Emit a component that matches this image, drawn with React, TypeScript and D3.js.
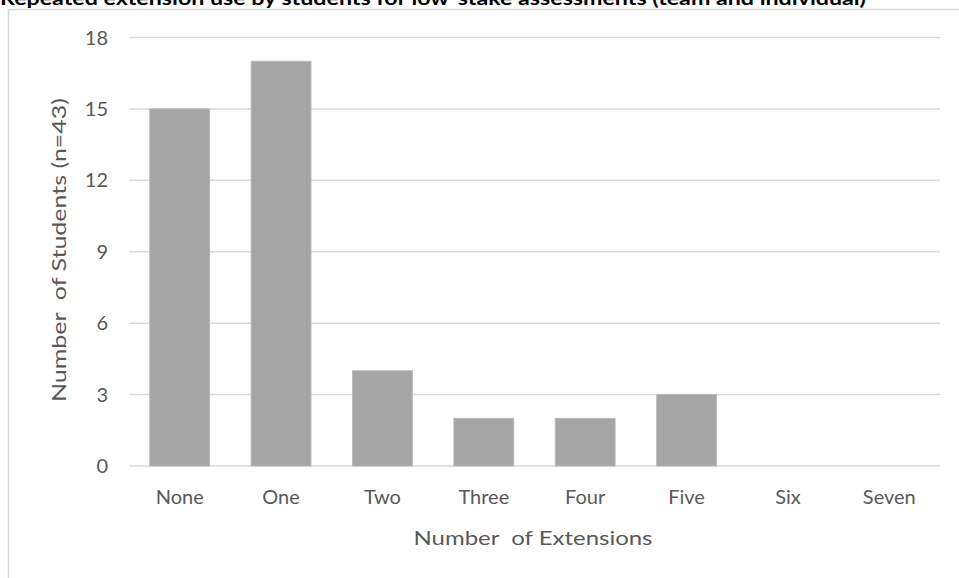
import React from "react";
import * as d3 from "d3";

const TITLE = "Repeated extension use by students for low-stake assessments (team and individual)";
const categories = ["None", "One", "Two", "Three", "Four", "Five", "Six", "Seven"];
const counts = [15, 17, 4, 2, 2, 3, 0, 0];
const yTicks = [0, 3, 6, 9, 12, 15, 18];
const X_TITLE = "Number  of Extensions";
const Y_TITLE = "Number  of Students (n=43)";

const W = 959;
const H = 578;
const plot = { left: 129, right: 940, top: 37.5, bottom: 466 };
const FONT = "Lato, 'Open Sans', sans-serif";
const TEXT = "#595959";

export default function App() {
  const x = d3
    .scaleBand<string>()
    .domain(categories)
    .range([plot.left, plot.right])
    .paddingInner(0.41)
    .paddingOuter(0.205);
  const y = d3.scaleLinear().domain([0, 18]).range([plot.bottom, plot.top]);

  return (
    <svg
      width={W}
      height={H}
      style={{ position: "absolute", left: 0, top: 0, background: "#fff" }}
    >
      <rect x={0} y={0} width={W} height={H} fill="#fff" />
      {/* chart border */}
      <rect x={8.5} y={9.5} width={W + 10} height={H + 10} fill="none" stroke="#d9d9d9" strokeWidth={1.5} />
      {/* title (clipped at top) */}
      <text
        x={0}
        y={5}
        fontFamily={FONT}
        fontWeight={700}
        fontSize={19}
        fill="#000"
        textLength={866}
        lengthAdjust="spacingAndGlyphs"
      >
        {TITLE}
      </text>
      {/* gridlines */}
      {yTicks.map((t) => (
        <line key={t} x1={plot.left} x2={plot.right} y1={y(t)} y2={y(t)} stroke="#d9d9d9" strokeWidth={1.5} />
      ))}
      {/* y tick labels */}
      {yTicks.map((t) => (
        <text key={"l" + t} x={108} y={y(t) + 7} textAnchor="end" fontFamily={FONT} fontSize={20} fill={TEXT}>
          {t}
        </text>
      ))}
      {/* bars */}
      {categories.map((c, i) =>
        counts[i] > 0 ? (
          <rect
            key={c}
            x={x(c)}
            y={y(counts[i])}
            width={x.bandwidth()}
            height={y(0) - y(counts[i])}
            fill="#a5a5a5"
            stroke="#b8b8b8"
            strokeWidth={1}
          />
        ) : null
      )}
      {/* x tick labels */}
      {categories.map((c) => (
        <text
          key={"x" + c}
          x={(x(c) as number) + x.bandwidth() / 2}
          y={504}
          textAnchor="middle"
          fontFamily={FONT}
          fontSize={20}
          fill={TEXT}
        >
          {c}
        </text>
      ))}
      {/* x axis title */}
      <text
        x={533}
        y={545}
        textAnchor="middle"
        fontFamily={FONT}
        fontSize={20}
        fill={TEXT}
        textLength={239}
        lengthAdjust="spacingAndGlyphs"
        style={{ whiteSpace: "pre" }}
      >
        {X_TITLE}
      </text>
      {/* y axis title */}
      <text
        transform={`translate(66, 250) rotate(-90)`}
        textAnchor="middle"
        fontFamily={FONT}
        fontSize={20}
        fill={TEXT}
        textLength={304}
        lengthAdjust="spacingAndGlyphs"
        style={{ whiteSpace: "pre" }}
      >
        {Y_TITLE}
      </text>
    </svg>
  );
}
